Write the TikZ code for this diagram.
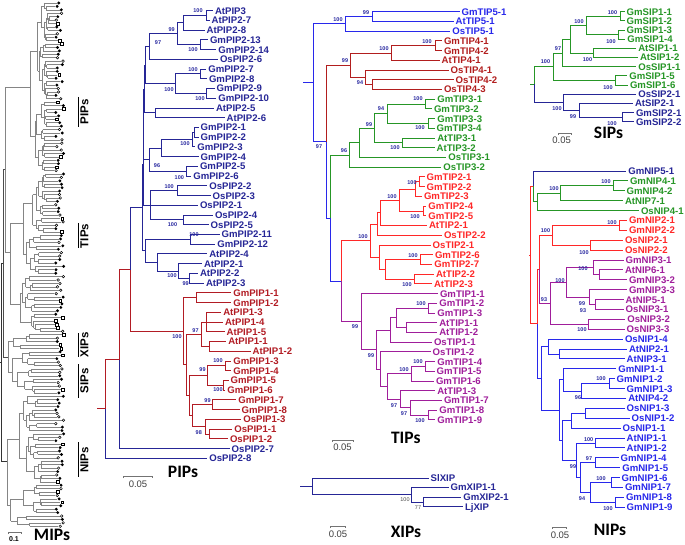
\documentclass[tikz,border=0pt]{standalone}
\usepackage{fontspec}
\setmainfont{Liberation Sans}
\newfontfamily\titlefont{Carlito}
\usetikzlibrary{calc}
\definecolor{cnavy}{RGB}{38,38,150}
\definecolor{cpipred}{RGB}{178,28,36}
\definecolor{cblue}{RGB}{40,40,235}
\definecolor{cdred}{RGB}{178,30,30}
\definecolor{cgreen}{RGB}{38,150,38}
\definecolor{cred}{RGB}{255,40,40}
\definecolor{cmag}{RGB}{160,30,155}
\definecolor{cbs}{RGB}{40,40,160}
\newcount\bscnt
\newcommand\brn[6]{%
  \path let \p1=(#3), \p2=(#4) in coordinate (#1) at (#2pt,{0.5*(\y1+\y2)});
  \draw[br,#5] (#1) |- (#3);
  \draw[br,#6] (#1) |- (#4);}
\newcommand\trn[8]{%
  \path let \p1=(#3), \p2=(#5) in coordinate (#1) at (#2pt,{0.5*(\y1+\y2)});
  \draw[br,#6] (#1) |- (#3);
  \draw[br,#7] (#1) |- (#4);
  \draw[br,#8] (#1) |- (#5);}
\newcommand\bsv[3]{\global\advance\bscnt by 1\relax
  \node[bsl] (bs\the\bscnt) at (#1,#2) {#3};}
\newcommand\ovleaf[2]{%
  \pgfmathsetmacro\ovyy{3+3.42*#1}%
  \pgfmathsetmacro\ovtip{54+8*rnd}%
  \draw[ov] (#2,\ovyy) -- (\ovtip,\ovyy);
  \pgfmathtruncatemacro\ovmk{floor(10*rnd)}%
  \ifnum\ovmk<5\relax
    \fill[black] ({\ovtip+1.7},\ovyy) circle[radius=1.6pt];
  \else\ifnum\ovmk<8\relax
    \draw[black,line width=0.5pt,fill=white] ({\ovtip+1.7},\ovyy) circle[radius=1.3pt];
  \else
    \draw[black,line width=0.5pt,fill=white] ({\ovtip+0.4},{\ovyy-1.4}) rectangle ({\ovtip+3.2},{\ovyy+1.4});
  \fi\fi}
\newcommand\ovnode[3]{%
  \pgfmathtruncatemacro\ovn{#2-#1+1}%
  \pgfmathtruncatemacro\ovnA{max(1,min(\ovn-1,round(\ovn*(0.25+0.5*rnd))))}%
  \pgfmathtruncatemacro\ovs{#1+\ovnA-1}%
  \pgfmathtruncatemacro\ovsp{\ovs+1}%
  \pgfmathsetmacro\ovyA{3+3.42*(#1+\ovs)/2}%
  \pgfmathsetmacro\ovyB{3+3.42*(\ovsp+#2)/2}%
  \draw[ov] (#3,\ovyA) -- (#3,\ovyB);
  \edef\ovnext{\noexpand\ovsub{#1}{\ovs}{#3}\noexpand\ovsub{\ovsp}{#2}{#3}}%
  \ovnext}
\newcommand\ovsub[3]{%
  \ifnum#1=#2\relax
    \ovleaf{#1}{#3}%
  \else
    \pgfmathsetmacro\ovyy{3+3.42*(#1+#2)/2}%
    \pgfmathsetmacro\ovx{#3+(51-#3)*(0.08+0.3*rnd)}%
    \draw[ov] (#3,\ovyy) -- (\ovx,\ovyy);
    \edef\ovnext{\noexpand\ovnode{#1}{#2}{\ovx}}%
    \ovnext
  \fi}
\begin{document}
\begin{tikzpicture}[x=1pt,y=-1pt,
  leaf/.style={anchor=west,inner xsep=2pt,inner ysep=0pt,outer sep=0pt,font=\bfseries\fontsize{9.6}{10}\selectfont,text height=6.9pt,text depth=0pt},
  br/.style={line width=0.9pt},
  bsl/.style={inner sep=0pt,font=\bfseries\fontsize{5.5}{6}\selectfont,text=cbs},
  ttl/.style={inner sep=0pt,font=\titlefont\bfseries\fontsize{17.5}{18}\selectfont},
  scl/.style={inner sep=0pt,font=\fontsize{9.5}{10}\selectfont,text=black!75},
  sbar/.style={line width=0.5pt,black!55},
  ov/.style={line width=0.55pt,black!48},
  ovlab/.style={rotate=90,inner sep=0pt,font=\bfseries\fontsize{11.5}{12}\selectfont}]
\useasboundingbox (0,0) rectangle (685,545);
\fill[white] (0,0) rectangle (685,545);

% ================= overview MIPs tree =================
\pgfmathsetseed{11}
\coordinate (oPIP) at (30,86.79);
\coordinate (oTIP) at (10,252.66);
\coordinate (oXIP) at (13,341.58);
\coordinate (oSIP) at (12,372.36);
\coordinate (oNIP) at (7,461.28);
\ovnode{0}{49}{30}
\ovnode{50}{96}{10}
\ovnode{97}{101}{13}
\ovnode{102}{114}{12}
\ovnode{115}{153}{7}
\coordinate (oPT) at (5,169.7);
\coordinate (oXS) at (8,356.97);
\coordinate (oA) at (3,263.3);
\coordinate (oRoot) at (1,362.3);
\coordinate (oStub) at (0,362.3);
\draw[ov] (oPT) |- (oPIP);
\draw[ov] (oPT) |- (oTIP);
\draw[ov] (oXS) |- (oXIP);
\draw[ov] (oXS) |- (oSIP);
\draw[ov,black!70] (oA) |- (oPT);
\draw[ov,black!70] (oA) |- (oXS);
\draw[ov,black!80] (oRoot) |- (oA);
\draw[ov,black!80] (oRoot) |- (oNIP);
\draw[ov,black!80] (oStub) -- (oRoot);
\draw[line width=0.8pt] (78.3,97) -- (78.3,127);
\node[ovlab] (lPIP) at (84.5,112) {PIPs};
\draw[line width=0.8pt] (78.3,223) -- (78.3,248);
\node[ovlab] (lTIP) at (84.5,236) {TIPs};
\draw[line width=0.8pt] (78.3,333) -- (78.3,357);
\node[ovlab] (lXIP) at (84.5,345) {XIPs};
\draw[line width=0.8pt] (78.3,364) -- (78.3,398);
\node[ovlab] (lSIP) at (84.5,381) {SIPs};
\draw[line width=0.8pt] (78.3,442) -- (78.3,477);
\node[ovlab] (lNIP) at (84.5,460) {NIPs};
\draw[sbar] (8,534) -- (8,532.5) -- (21,532.5) -- (21,534);
\node[inner sep=0pt,font=\bfseries\fontsize{7}{8}\selectfont] (s01) at (14,538.8) {0.1};
\node[ttl] (tMIP) at (52,535) {MIPs};

% ================= PIPs =================
\foreach \n/\tx/\lab/\col [count=\i from 0] in {
 a1/215/AtPIP3/cnavy, a2/211.7/AtPIP2-7/cnavy, a3/206.7/AtPIP2-8/cnavy,
 a4/210/GmPIP2-13/cnavy, a5/218.3/GmPIP2-14/cnavy, a6/220/OsPIP2-6/cnavy,
 a7/208.3/GmPIP2-7/cnavy, a8/209/GmPIP2-8/cnavy, a9/216.7/GmPIP2-9/cnavy,
 a10/218.3/GmPIP2-10/cnavy, a11/216/AtPIP2-5/cnavy, a12/226.7/AtPIP2-6/cnavy,
 a13/200.7/GmPIP2-1/cnavy, a14/200.7/GmPIP2-2/cnavy, a15/197.3/GmPIP2-3/cnavy,
 a16/200.7/GmPIP2-4/cnavy, a17/200/GmPIP2-5/cnavy, a18/193.3/GmPIP2-6/cnavy,
 a19/209.3/OsPIP2-2/cnavy, a20/212.7/OsPIP2-3/cnavy, a21/200/OsPIP2-1/cnavy,
 a22/215/OsPIP2-4/cnavy, a23/210.7/OsPIP2-5/cnavy, a24/221.7/GmPIP2-11/cnavy,
 a25/217.3/GmPIP2-12/cnavy, a26/209.3/AtPIP2-4/cnavy, a27/204/AtPIP2-1/cnavy,
 a28/200/AtPIP2-2/cnavy, a29/206/AtPIP2-3/cnavy,
 a30/233.3/GmPIP1-1/cpipred, a31/233.3/GmPIP1-2/cpipred, a32/223.3/AtPIP1-3/cpipred,
 a33/225/AtPIP1-4/cpipred, a34/226.7/AtPIP1-5/cpipred, a35/228.3/AtPIP1-1/cpipred,
 a36/252.7/AtPIP1-2/cpipred, a37/233.3/GmPIP1-3/cpipred, a38/233.3/GmPIP1-4/cpipred,
 a39/230.7/GmPIP1-5/cpipred, a40/227.3/GmPIP1-6/cpipred, a41/238.3/GmPIP1-7/cpipred,
 a42/241.7/GmPIP1-8/cpipred, a43/243.3/OsPIP1-3/cpipred, a44/234.3/OsPIP1-1/cpipred,
 a45/230/OsPIP1-2/cpipred, a46/231.7/OsPIP2-7/cnavy, a47/209.3/OsPIP2-8/cnavy}{
  \pgfmathsetmacro\yy{10.7+\i*9.73}
  \coordinate (\n) at ({\tx-2},\yy);
  \node[leaf,text=\col] (\n-l) at (\n) {\lab};
}
\brn{ic1}{206}{a1}{a2}{cnavy}{cnavy}
\brn{iA1}{183}{ic1}{a3}{cnavy}{cnavy}
\brn{ic2}{200.7}{a4}{a5}{cnavy}{cnavy}
\brn{iA2}{177}{iA1}{ic2}{cnavy}{cnavy}
\brn{iA3}{149}{iA2}{a6}{cnavy}{cnavy}
\brn{ic3}{200}{a7}{a8}{cnavy}{cnavy}
\brn{ic4}{206.7}{a9}{a10}{cnavy}{cnavy}
\brn{iB1}{175}{ic3}{ic4}{cnavy}{cnavy}
\brn{iN1}{145.5}{iA3}{iB1}{cnavy}{cnavy}
\brn{ic5}{155}{a11}{a12}{cnavy}{cnavy}
\brn{iN2}{144.5}{iN1}{ic5}{cnavy}{cnavy}
\brn{ic6}{194.5}{a13}{a14}{cnavy}{cnavy}
\brn{ic7}{192}{ic6}{a15}{cnavy}{cnavy}
\brn{ic8}{161.7}{ic7}{a16}{cnavy}{cnavy}
\brn{ic9}{186.7}{a17}{a18}{cnavy}{cnavy}
\brn{ic10}{149.3}{ic8}{ic9}{cnavy}{cnavy}
\brn{iN3}{143.5}{iN2}{ic10}{cnavy}{cnavy}
\brn{ic11}{177}{a19}{a20}{cnavy}{cnavy}
\brn{ic13}{183}{a22}{a23}{cnavy}{cnavy}
\trn{ic14}{150}{ic11}{a21}{ic13}{cnavy}{cnavy}{cnavy}
\brn{iX}{143}{iN3}{ic14}{cnavy}{cnavy}
\brn{ic15}{190}{a24}{a25}{cnavy}{cnavy}
\brn{icAt}{189.3}{a28}{a29}{cnavy}{cnavy}
\brn{id1}{178.3}{a27}{icAt}{cnavy}{cnavy}
\brn{id2}{157}{a26}{id1}{cnavy}{cnavy}
\brn{id3}{145}{ic15}{id2}{cnavy}{cnavy}
\brn{iP2}{142}{iX}{id3}{cnavy}{cnavy}
\brn{ie1}{196}{a30}{a31}{cpipred}{cpipred}
\trn{if1}{206}{a32}{a33}{a34}{cpipred}{cpipred}{cpipred}
\brn{if2}{209}{a35}{a36}{cpipred}{cpipred}
\brn{if3}{201}{if1}{if2}{cpipred}{cpipred}
\brn{ig1}{225}{a37}{a38}{cpipred}{cpipred}
\brn{ig2}{223}{a39}{a40}{cpipred}{cpipred}
\brn{ig3}{207}{ig1}{ig2}{cpipred}{cpipred}
\brn{ih1}{212}{a41}{a42}{cpipred}{cpipred}
\brn{ih2}{209}{a44}{a45}{cpipred}{cpipred}
\brn{ih3}{205}{a43}{ih2}{cpipred}{cpipred}
\brn{ih4}{192}{ih1}{ih3}{cpipred}{cpipred}
\brn{ig4}{189}{ig3}{ih4}{cpipred}{cpipred}
\brn{irest}{186}{if3}{ig4}{cpipred}{cpipred}
\brn{iP1}{183}{ie1}{irest}{cpipred}{cpipred}
\brn{iR}{130}{iP2}{iP1}{cnavy}{cpipred}
\brn{iQ}{119.5}{iR}{a46}{cpipred}{cnavy}
\brn{iRoot}{105}{iQ}{a47}{cpipred}{cnavy}
\coordinate (iStub) at ($(iRoot)+(-8,0)$);
\draw[br,cpipred] (iStub) -- (iRoot);
\bsv{198}{11}{100} \bsv{171.7}{29.3}{99} \bsv{193}{50}{100} \bsv{158}{42.7}{97}
\bsv{193}{70}{100} \bsv{169}{89.3}{100} \bsv{200}{99}{100} \bsv{185}{143.5}{100}
\bsv{157}{165.7}{96} \bsv{179.3}{177.3}{100} \bsv{169.2}{186.7}{100} \bsv{172.5}{224.3}{100}
\bsv{194}{234.3}{100} \bsv{172}{276}{100} \bsv{185.7}{284}{99} \bsv{177}{336.7}{100}
\bsv{195.5}{331}{97} \bsv{218}{360.7}{100} \bsv{202.5}{370}{99} \bsv{218}{389.3}{100}
\bsv{207.5}{400.5}{99} \bsv{198.8}{432.3}{98}
\draw[sbar] (123,478.2) -- (123,476.7) -- (152.7,476.7) -- (152.7,478.2);
\node[scl] (sPIP) at (138,484) {0.05};
\node[ttl] (tPIP) at (183,471.7) {PIPs};

% ================= TIPs =================
\foreach \n/\tx/\lab/\col [count=\i from 0] in {
 b1/461.7/GmTIP5-1/cblue, b2/455.7/AtTIP5-1/cblue, b3/452.3/OsTIP5-1/cblue,
 b4/444/GmTIP4-1/cdred, b5/444/GmTIP4-2/cdred, b6/441.7/AtTIP4-1/cdred,
 b7/450.7/OsTIP4-1/cdred, b8/455.7/OsTIP4-2/cdred, b9/444/OsTIP4-3/cdred,
 b10/437.3/GmTIP3-1/cgreen, b11/434/GmTIP3-2/cgreen, b12/437.3/GmTIP3-3/cgreen,
 b13/436.7/GmTIP3-4/cgreen, b14/437.3/AtTIP3-1/cgreen, b15/436.7/AtTIP3-2/cgreen,
 b16/448.3/OsTIP3-1/cgreen, b17/443.3/OsTIP3-2/cgreen,
 b18/426.7/GmTIP2-1/cred, b19/426.7/GmTIP2-2/cred, b20/424/GmTIP2-3/cred,
 b21/428.3/GmTIP2-4/cred, b22/428.3/GmTIP2-5/cred, b23/429/AtTIP2-1/cred,
 b24/444/OsTIP2-2/cred, b25/432.7/OsTIP2-1/cred, b26/435/GmTIP2-6/cred,
 b27/434.3/GmTIP2-7/cred, b28/436/AtTIP2-2/cred, b29/434/AtTIP2-3/cred,
 b30/440/GmTIP1-1/cmag, b31/439.3/GmTIP1-2/cmag, b32/437.3/GmTIP1-3/cmag,
 b33/439.3/AtTIP1-1/cmag, b34/439.3/AtTIP1-2/cmag, b35/434/OsTIP1-1/cmag,
 b36/432.7/OsTIP1-2/cmag, b37/437.3/GmTIP1-4/cmag, b38/436.7/GmTIP1-5/cmag,
 b39/436/GmTIP1-6/cmag, b40/437.3/AtTIP1-3/cmag, b41/444/GmTIP1-7/cmag,
 b42/439.3/GmTIP1-8/cmag, b43/437.3/GmTIP1-9/cmag}{
  \pgfmathsetmacro\yy{11.7+\i*9.72}
  \coordinate (\n) at ({\tx-2},\yy);
  \node[leaf,text=\col] (\n-l) at (\n) {\lab};
}
\brn{jt5a}{372}{b1}{b2}{cblue}{cblue}
\brn{jt5}{345}{jt5a}{b3}{cblue}{cblue}
\brn{jt4a}{435}{b4}{b5}{cdred}{cdred}
\brn{jt4b}{391}{jt4a}{b6}{cdred}{cdred}
\brn{jt4c}{372}{b8}{b9}{cdred}{cdred}
\brn{jt4d}{365}{b7}{jt4c}{cdred}{cdred}
\brn{jt4}{350}{jt4b}{jt4d}{cdred}{cdred}
\brn{jt3a}{425}{b10}{b11}{cgreen}{cgreen}
\brn{jt3b}{428}{b12}{b13}{cgreen}{cgreen}
\brn{jt3c}{387}{jt3a}{jt3b}{cgreen}{cgreen}
\brn{jt3d}{402}{b14}{b15}{cgreen}{cgreen}
\brn{jt3e}{374}{jt3c}{jt3d}{cgreen}{cgreen}
\brn{jt3f}{359}{jt3e}{b16}{cgreen}{cgreen}
\brn{jt3}{349}{jt3f}{b17}{cgreen}{cgreen}
\brn{ju1}{419}{b18}{b19}{cred}{cred}
\brn{ju2}{415}{ju1}{b20}{cred}{cred}
\brn{ju3}{423}{b21}{b22}{cred}{cred}
\brn{ju4}{399}{ju2}{ju3}{cred}{cred}
\brn{ju5}{380}{ju4}{b23}{cred}{cred}
\brn{ju6}{377}{ju5}{b24}{cred}{cred}
\brn{ju7}{420}{b26}{b27}{cred}{cred}
\brn{ju8}{414}{b28}{b29}{cred}{cred}
\brn{ju9}{385}{ju7}{ju8}{cred}{cred}
\brn{ju10}{379}{b25}{ju9}{cred}{cred}
\brn{jTIP2}{370}{ju6}{ju10}{cred}{cred}
\brn{jv1}{428}{b31}{b32}{cmag}{cmag}
\brn{jv2}{406}{b33}{b34}{cmag}{cmag}
\brn{jv3}{396}{jv1}{jv2}{cmag}{cmag}
\brn{jv4}{390}{jv3}{b35}{cmag}{cmag}
\brn{jv5}{425}{b37}{b38}{cmag}{cmag}
\brn{jv6}{411}{jv5}{b39}{cmag}{cmag}
\brn{jv7}{428}{b42}{b43}{cmag}{cmag}
\brn{jv8}{410}{b41}{jv7}{cmag}{cmag}
\brn{jv9}{400}{b40}{jv8}{cmag}{cmag}
\brn{jv10}{387}{jv6}{jv9}{cmag}{cmag}
\brn{jv11}{380}{b36}{jv10}{cmag}{cmag}
\brn{jv12}{376}{jv4}{jv11}{cmag}{cmag}
\brn{jTIP1}{361}{b30}{jv12}{cmag}{cmag}
\brn{jt12}{341}{jTIP2}{jTIP1}{cred}{cmag}
\brn{jY}{330}{jt3}{jt12}{cgreen}{cblue}
\brn{jZ}{326}{jt4}{jY}{cdred}{cblue}
\brn{jT}{313}{jt5}{jZ}{cblue}{cblue}
\coordinate (jStub) at ($(jT)+(-10,0)$);
\draw[br,cblue] (jStub) -- (jT);
\bsv{366}{13}{99} \bsv{338}{20}{100} \bsv{427}{42}{100} \bsv{384}{49}{100}
\bsv{360}{83}{94} \bsv{345}{61}{99} \bsv{418}{99}{100} \bsv{381}{109}{94}
\bsv{420}{128}{100} \bsv{395}{148}{100} \bsv{369}{125}{99} \bsv{344}{151}{96}
\bsv{319}{147}{97} \bsv{412}{183}{100} \bsv{392}{197}{100} \bsv{415}{217}{100}
\bsv{363}{237}{100} \bsv{413}{256}{100} \bsv{407}{285}{100} \bsv{421}{304}{100}
\bsv{355}{327}{99} \bsv{371}{356}{99} \bsv{418}{362}{100} \bsv{404}{370}{100}
\bsv{394}{406}{97} \bsv{404}{414}{97} \bsv{420}{420.7}{100}
\draw[sbar] (332,442.2) -- (332,440.7) -- (353,440.7) -- (353,442.2);
\node[scl] (sTIP) at (342.5,447.5) {0.05};
\node[ttl] (tTIP) at (405.8,437.5) {TIPs};

% ================= XIPs =================
\foreach \n/\tx/\yy/\lab in {x1/430.7/478.3/SlXIP, x2/450.7/487.3/GmXIP1-1,
 x3/463.3/497.3/GmXIP2-1, x4/465/506.7/LjXIP}{
  \coordinate (\n) at ({\tx-2},\yy);
  \node[leaf,text=cnavy] (\n-l) at (\n) {\lab};
}
\brn{kx1}{423.3}{x3}{x4}{cnavy}{cnavy}
\brn{kx2}{411.7}{x2}{kx1}{cnavy}{cnavy}
\brn{kxR}{312}{x1}{kx2}{cnavy}{cnavy}
\coordinate (kStub) at ($(kxR)+(-12,0)$);
\draw[br,cnavy] (kStub) -- (kxR);
\node[bsl,text=black!70,font=\fontsize{5.5}{6}\selectfont] (bx1) at (405,499.3) {100};
\node[bsl,text=black!70,font=\fontsize{5.5}{6}\selectfont] (bx2) at (418,508) {77};
\draw[sbar] (330,528.2) -- (330,526.7) -- (345.7,526.7) -- (345.7,528.2);
\node[scl] (sXIP) at (338,534) {0.05};
\node[ttl] (tXIP) at (406,532) {XIPs};

% ================= SIPs =================
\foreach \n/\tx/\lab/\col [count=\i from 0] in {
 c1/626.7/GmSIP1-1/cgreen, c2/626.7/GmSIP1-2/cgreen, c3/626.7/GmSIP1-3/cgreen,
 c4/627.3/GmSIP1-4/cgreen, c5/638.3/AtSIP1-1/cgreen, c6/640/AtSIP1-2/cgreen,
 c7/638.3/OsSIP1-1/cgreen, c8/629.3/GmSIP1-5/cgreen, c9/630/GmSIP1-6/cgreen,
 c10/638.3/OsSIP2-1/cnavy, c11/635/AtSIP2-1/cnavy, c12/636/GmSIP2-1/cnavy,
 c13/636/GmSIP2-2/cnavy}{
  \pgfmathsetmacro\yy{11.7+\i*9.17}
  \coordinate (\n) at ({\tx-2},\yy);
  \node[leaf,text=\col] (\n-l) at (\n) {\lab};
}
\brn{ks1}{620}{c1}{c2}{cgreen}{cgreen}
\brn{ks2}{618.3}{c3}{c4}{cgreen}{cgreen}
\brn{ks3}{586.7}{ks1}{ks2}{cgreen}{cgreen}
\brn{ks4}{593.3}{c5}{c6}{cgreen}{cgreen}
\brn{ks5}{570}{ks3}{ks4}{cgreen}{cgreen}
\brn{ks6}{562}{ks5}{c7}{cgreen}{cgreen}
\brn{ks7}{615}{c8}{c9}{cgreen}{cgreen}
\brn{kS1}{553}{ks6}{ks7}{cgreen}{cgreen}
\brn{kq1}{622.7}{c12}{c13}{cnavy}{cnavy}
\brn{kq2}{579.3}{c11}{kq1}{cnavy}{cnavy}
\brn{kS2}{563.3}{c10}{kq2}{cnavy}{cnavy}
\brn{kSR}{534}{kS1}{kS2}{cgreen}{cnavy}
\coordinate (sStub) at ($(kSR)+(-4,0)$);
\draw[br,cgreen] (sStub) -- (kSR);
\bsv{612.5}{12.7}{100} \bsv{611}{41.7}{100} \bsv{579}{21.7}{100} \bsv{587.5}{59.3}{100}
\bsv{558}{48.3}{97} \bsv{545.5}{61.7}{100} \bsv{608}{87.3}{100} \bsv{557}{108.3}{100}
\bsv{573}{116.7}{99} \bsv{612}{123.3}{100}
\draw[sbar] (558.3,134.8) -- (558.3,133.3) -- (571.7,133.3) -- (571.7,134.8);
\node[scl] (sSIP) at (561.7,140.5) {0.05};
\node[ttl] (tSIP) at (608.5,132.5) {SIPs};

% ================= NIPs =================
\foreach \n/\tx/\lab/\col [count=\i from 0] in {
 d1/628.3/GmNIP5-1/cnavy, d2/630/GmNIP4-1/cgreen, d3/626.7/GmNIP4-2/cgreen,
 d4/625/AtNIP7-1/cgreen, d5/641/OsNIP4-1/cgreen, d6/629/GmNIP2-1/cred,
 d7/629/GmNIP2-2/cred, d8/625/OsNIP2-1/cred, d9/625/OsNIP2-2/cred,
 d10/625.7/GmNIP3-1/cmag, d11/625/AtNIP6-1/cmag, d12/629/GmNIP3-2/cmag,
 d13/629/GmNIP3-3/cmag, d14/625.7/AtNIP5-1/cmag, d15/625.7/OsNIP3-1/cmag,
 d16/627.3/OsNIP3-2/cmag, d17/626.7/OsNIP3-3/cmag, d18/625/OsNIP1-4/cblue,
 d19/629/AtNIP2-1/cblue, d20/626.7/AtNIP3-1/cblue, d21/618.3/GmNIP1-1/cblue,
 d22/616.7/GmNIP1-2/cblue, d23/626.7/GmNIP1-3/cblue, d24/628.3/AtNIP4-2/cblue,
 d25/626.7/OsNIP1-3/cblue, d26/631.7/OsNIP1-2/cblue, d27/622.7/OsNIP1-1/cblue,
 d28/626.7/AtNIP1-1/cblue, d29/626.7/AtNIP1-2/cblue, d30/620.7/GmNIP1-4/cblue,
 d31/622.3/GmNIP1-5/cblue, d32/621.7/GmNIP1-6/cblue, d33/625/GmNIP1-7/cblue,
 d34/626/GmNIP1-8/cblue, d35/626.7/GmNIP1-9/cblue}{
  \pgfmathsetmacro\yy{171+\i*9.89}
  \coordinate (\n) at ({\tx-2},\yy);
  \node[leaf,text=\col] (\n-l) at (\n) {\lab};
}
\brn{m1}{613.3}{d2}{d3}{cgreen}{cgreen}
\brn{m2}{560.7}{m1}{d4}{cgreen}{cgreen}
\brn{m3}{537.3}{m2}{d5}{cgreen}{cgreen}
\brn{m4}{533.3}{d1}{m3}{cnavy}{cgreen}
\brn{mr1}{619.3}{d6}{d7}{cred}{cred}
\brn{mr2}{590}{d8}{d9}{cred}{cred}
\brn{mr3}{552.7}{mr1}{mr2}{cred}{cred}
\brn{mp1}{599.3}{d11}{d12}{cmag}{cmag}
\brn{mp2}{593.3}{d10}{mp1}{cmag}{cmag}
\brn{mp3}{595}{d14}{d15}{cmag}{cmag}
\brn{mp4}{589.3}{d13}{mp3}{cmag}{cmag}
\brn{mp5}{566.7}{mp2}{mp4}{cmag}{cmag}
\brn{mp6}{588.3}{d16}{d17}{cmag}{cmag}
\brn{mp7}{550}{mp5}{mp6}{cmag}{cmag}
\brn{mr4}{539.3}{mr3}{mp7}{cred}{cmag}
\brn{mb1}{559.3}{d19}{d20}{cblue}{cblue}
\brn{mb2}{548.3}{d18}{mb1}{cblue}{cblue}
\brn{mb3}{609.3}{d22}{d23}{cblue}{cblue}
\brn{mb4}{581.7}{mb3}{d24}{cblue}{cblue}
\brn{mb5}{563.3}{d21}{mb4}{cblue}{cblue}
\brn{mb6}{585}{d25}{d26}{cblue}{cblue}
\brn{mb7}{571}{mb6}{d27}{cblue}{cblue}
\brn{mb8}{595}{d28}{d29}{cblue}{cblue}
\brn{mb9}{595}{d30}{d31}{cblue}{cblue}
\brn{mb10}{611.7}{d32}{d33}{cblue}{cblue}
\brn{mb11}{615}{d34}{d35}{cblue}{cblue}
\brn{mb12}{590}{mb10}{mb11}{cblue}{cblue}
\brn{mb13}{580}{mb9}{mb12}{cblue}{cblue}
\brn{mb14}{576}{mb8}{mb13}{cblue}{cblue}
\brn{mb15}{562.7}{mb7}{mb14}{cblue}{cblue}
\brn{mb16}{559.3}{mb5}{mb15}{cblue}{cblue}
\brn{mNIP1}{541}{mb2}{mb16}{cblue}{cblue}
\brn{mrr}{537.3}{mr4}{mNIP1}{cred}{cblue}
\brn{mRoot}{530.5}{m4}{mrr}{cred}{cred}
\coordinate (nStub) at ($(mRoot)+(-1.5,0)$);
\draw[br,cred] (nStub) -- (mRoot);
\bsv{606}{181.7}{100} \bsv{554}{188.3}{100} \bsv{612}{222.7}{100} \bsv{545.5}{231}{100}
\bsv{584}{252.3}{100} \bsv{583}{268.3}{100} \bsv{560}{281}{100} \bsv{544}{300}{93}
\bsv{582}{303.3}{99} \bsv{583}{310.7}{93} \bsv{582}{330}{100} \bsv{601}{378.3}{100}
\bsv{578}{397.7}{96} \bsv{588.7}{440}{100} \bsv{589}{459}{97} \bsv{573}{466.7}{99}
\bsv{601}{478.3}{100} \bsv{582}{498.3}{94} \bsv{608}{508.3}{100}
\draw[sbar] (552.7,529.2) -- (552.7,527.7) -- (566,527.7) -- (566,529.2);
\node[scl] (sNIP) at (560,535) {0.05};
\node[ttl] (tNIP) at (610,530) {NIPs};
\end{tikzpicture}
\end{document}
